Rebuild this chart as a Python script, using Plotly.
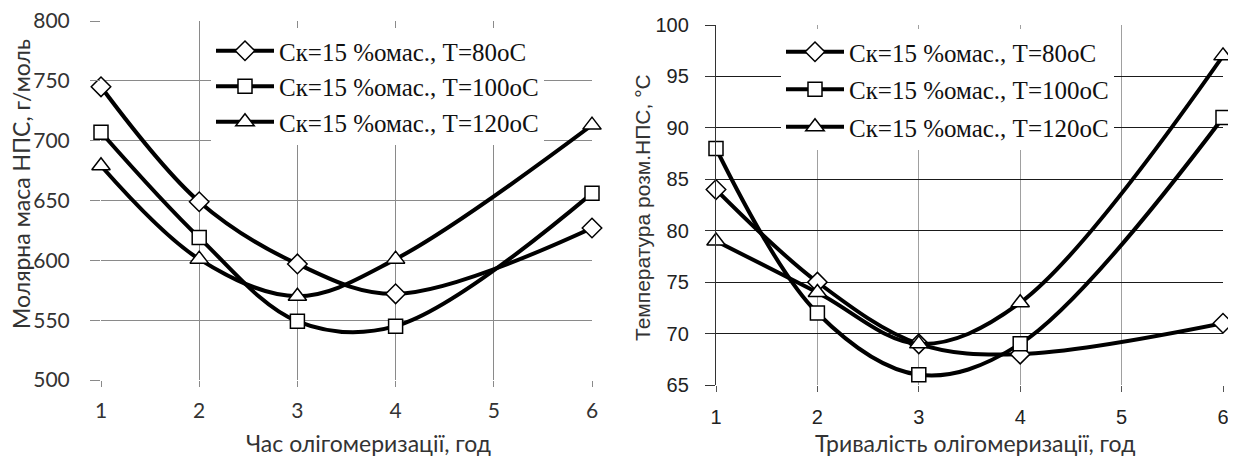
import plotly.graph_objects as go

hours = [1, 2, 3, 4, 6]
tick_vals = [1, 2, 3, 4, 5, 6]

names = ["Ск=15 %омас., Т=80оС", "Ск=15 %омас., Т=100оС", "Ск=15 %омас., Т=120оС"]
symbols = ["diamond", "square", "triangle-up"]

# Left chart: molar mass, g/mol
mass_80 = [745, 649, 597, 572, 627]
mass_100 = [707, 619, 549, 545, 656]
mass_120 = [679, 601, 570, 601, 713]

# Right chart: softening temperature, °C
temp_80 = [84, 75, 69, 68, 71]
temp_100 = [88, 72, 66, 69, 91]
temp_120 = [79, 74, 69, 73, 97]

left_series = [mass_80, mass_100, mass_120]
right_series = [temp_80, temp_100, temp_120]

W, H = 1236, 457
OFF = 8  # page body margin offset


def fx(px):
    return (px - OFF) / W


def fy(py):
    return 1 - (py - OFF) / H


fig = go.Figure()

marker_sizes = [15, 14, 16]

for i, (ys, nm, sym) in enumerate(zip(left_series, names, symbols)):
    fig.add_trace(go.Scatter(
        x=hours, y=ys, name=nm, mode="lines+markers",
        line=dict(color="black", width=4, shape="spline", smoothing=1),
        marker=dict(symbol=sym, size=marker_sizes[i], color="white",
                    line=dict(color="black", width=1.5)),
        xaxis="x", yaxis="y", legend="legend", legendgroup="l%d" % i,
        cliponaxis=False,
    ))

for i, (ys, nm, sym) in enumerate(zip(right_series, names, symbols)):
    fig.add_trace(go.Scatter(
        x=hours, y=ys, name=nm, mode="lines+markers",
        line=dict(color="black", width=4, shape="spline", smoothing=1),
        marker=dict(symbol=sym, size=marker_sizes[i], color="white",
                    line=dict(color="black", width=1.5)),
        xaxis="x2", yaxis="y2", legend="legend2", legendgroup="r%d" % i,
        cliponaxis=False,
    ))

LATO = "Lato, Open Sans, sans-serif"
ARIAL = "Liberation Sans, Arial, sans-serif"
left_font = dict(family=LATO, size=21, color="#333")
right_font = dict(family=ARIAL, size=20, color="#222")
legend_font = dict(family="Liberation Serif, Times New Roman, serif", size=25, color="#111")

fig.update_layout(
    width=W, height=H,
    margin=dict(l=0, r=0, t=0, b=0, autoexpand=False),
    paper_bgcolor="white", plot_bgcolor="white",
    showlegend=True,
    xaxis=dict(domain=[fx(101), fx(592)], range=[1, 6], tickvals=tick_vals,
               automargin=False, ticklabeloverflow="allow",
               showgrid=True, gridcolor="#8a8a8a", gridwidth=1,
               zeroline=False, showline=False,
               ticks="outside", ticklen=6, tickcolor="#8a8a8a",
               tickfont=left_font, ticklabelstandoff=6,
               anchor="y"),
    yaxis=dict(domain=[fy(380), fy(21)], range=[500, 800], dtick=50,
               automargin=False, ticklabeloverflow="allow",
               showgrid=True, gridcolor="#8a8a8a", gridwidth=1,
               zeroline=False, showline=False,
               ticks="outside", ticklen=10, tickcolor="#8a8a8a",
               tickfont=left_font, ticklabelstandoff=16,
               anchor="x"),
    xaxis2=dict(domain=[fx(716), fx(1223)], range=[1, 6], tickvals=tick_vals,
                automargin=False, ticklabeloverflow="allow",
                showgrid=True, gridcolor="#a0a0a0", gridwidth=1,
                zeroline=False, showline=False,
                ticks="outside", ticklen=6, tickcolor="#555",
                tickfont=right_font, ticklabelstandoff=8,
                anchor="y2"),
    yaxis2=dict(domain=[fy(385), fy(25)], range=[65, 100], dtick=5,
                automargin=False, ticklabeloverflow="allow",
                showgrid=True, gridcolor="#1a1a1a", gridwidth=1.3,
                zeroline=False, showline=True, linecolor="#333", linewidth=1.3,
                ticks="outside", ticklen=10, tickcolor="#333",
                tickfont=right_font, ticklabelstandoff=12,
                anchor="x2"),
    legend=dict(x=fx(211), y=fy(28), xanchor="left", yanchor="top",
                bgcolor="white", borderwidth=0, font=legend_font,
                traceorder="grouped", tracegroupgap=0, itemwidth=58),
    legend2=dict(x=fx(781), y=fy(29), xanchor="left", yanchor="top",
                 bgcolor="white", borderwidth=0, font=legend_font,
                 traceorder="grouped", tracegroupgap=2, itemwidth=58),
    annotations=[
        dict(text="Час олігомеризації, год", xref="paper", yref="paper",
             x=fx(368), y=fy(443), xanchor="center", yanchor="middle",
             showarrow=False, font=dict(family=LATO, size=23, color="#333")),
        dict(text="Молярна маса НПС, г/моль", xref="paper", yref="paper",
             x=fx(21), y=fy(184), xanchor="center", yanchor="middle",
             textangle=-90, showarrow=False,
             font=dict(family=LATO, size=23, color="#333")),
        dict(text="Тривалість олігомеризації, год", xref="paper", yref="paper",
             x=fx(975), y=fy(443), xanchor="center", yanchor="middle",
             showarrow=False, font=dict(family=LATO, size=23, color="#333")),
        dict(text="Температура розм.НПС, °С", xref="paper", yref="paper",
             x=fx(642), y=fy(208), xanchor="center", yanchor="middle",
             textangle=-90, showarrow=False,
             font=dict(family=ARIAL, size=21, color="#333")),
    ],
)

fig.write_html("out.html")
